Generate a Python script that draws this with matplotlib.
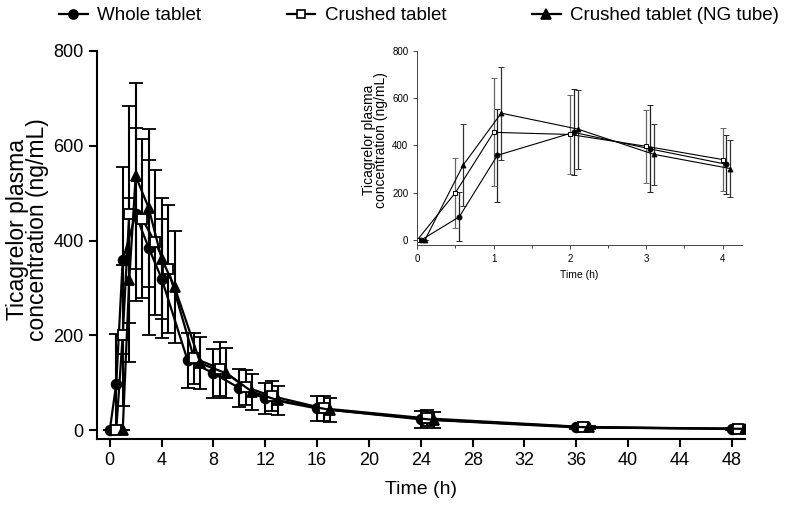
import numpy as np
import matplotlib.pyplot as plt
from matplotlib.lines import Line2D

plt.rcParams['font.family'] = ['Liberation Sans', 'DejaVu Sans']

# sampling times (h) and mean +/- SD concentrations (ng/mL)
time_h = [0, 0.5, 1, 2, 3, 4, 6, 8, 10, 12, 16, 24, 36, 48]
whole = [0, 98, 358, 455, 385, 320, 148, 120, 89, 67, 46, 23, 6, 3]
whole_sd = [0, 104, 197, 182, 184, 125, 58, 52, 40, 32, 27, 18, 4, 2]
crushed = [0, 200, 455, 446, 396, 340, 152, 130, 91, 72, 46, 25, 7, 3]
crushed_sd = [0, 148, 228, 168, 153, 134, 54, 57, 37, 32, 27, 17, 4, 2]
ng_tube = [0, 316, 536, 469, 362, 302, 141, 120, 81, 63, 43, 22, 6, 3]
ng_tube_sd = [0, 173, 196, 167, 128, 119, 55, 53, 38, 30, 25, 17, 4, 2]

labels = ["Whole tablet", "Crushed tablet", "Crushed tablet (NG tube)"]
n_inset = 6  # first 4 hours

series = [
    (whole, whole_sd, "o", "black"),
    (crushed, crushed_sd, "s", "white"),
    (ng_tube, ng_tube_sd, "^", "black"),
]

fig = plt.figure(figsize=(8, 5.09), dpi=100)

# main plot
ax = fig.add_axes([0.121, 0.137, 0.81, 0.763])
t = np.array(time_h)
main_shift = [0, 0.5, 1.0]
for (y, sd, mk, fc), dx in zip(series, main_shift):
    ax.errorbar(t + dx, y, yerr=sd, color="black", lw=1.6, elinewidth=1.5,
                capsize=5, capthick=1.5, marker=mk, ms=7 if mk != "s" else 6.5,
                mfc=fc, mec="black", mew=1.3)

ax.set_xlim(-1, 49)
ax.set_ylim(-19, 800)
ax.set_xticks(np.arange(0, 49, 4))
ax.set_yticks(np.arange(0, 801, 200))
ax.spines[["top", "right"]].set_visible(False)
ax.spines[["left", "bottom"]].set_linewidth(1.5)
ax.tick_params(width=1.5, length=6, labelsize=13)
ax.set_xlabel("Time (h)", fontsize=14, labelpad=8)
ax.set_ylabel("Ticagrelor plasma\nconcentration (ng/mL)", fontsize=16.5, linespacing=0.85)
ax.yaxis.set_label_coords(-0.074, 0.54)

# inset: first 4 hours
ins = fig.add_axes([0.5216, 0.5187, 0.4055, 0.3817])
ti = t[:n_inset]
inset_shift = [0.05, 0.0, 0.1]
inset_ecol = ["#222222", "#666666", "#333333"]
for (y, sd, mk, fc), dx, ec in zip(series, inset_shift, inset_ecol):
    ins.errorbar(ti + dx, y[:n_inset], yerr=sd[:n_inset], color="black", lw=0.8,
                 ecolor=ec, elinewidth=0.9, capsize=2, capthick=0.9, marker=mk,
                 ms=3.5, mfc=fc, mec="black", mew=0.7)

ins.set_xlim(0, 4.25)
ins.set_ylim(-21, 800)
ins.set_xticks(range(0, 5))
ins.set_xticks(np.arange(0.5, 4.1, 1), minor=True)
ins.set_yticks(np.arange(0, 801, 200))
ins.spines[["top", "right"]].set_visible(False)
ins.spines[["left", "bottom"]].set_linewidth(0.7)
ins.spines[["left", "bottom"]].set_color("#444444")
ins.tick_params(width=0.7, length=3, labelsize=7, color="#444444")
ins.tick_params(which="minor", width=0.7, length=2, color="#444444")
ins.set_xlabel("Time (h)", fontsize=7.5, labelpad=4)
ins.set_ylabel("Ticagrelor plasma\nconcentration (ng/mL)", fontsize=10, linespacing=0.8)
ins.yaxis.set_label_coords(-0.09, 0.54)

# legend across the top
handles = [Line2D([], [], color="black", lw=1.6, marker=mk, ms=6.5 if mk != "s" else 6,
                  mfc=fc, mec="black", mew=1.2) for (_, _, mk, fc) in series]
fig.legend(handles, labels, loc="upper left", bbox_to_anchor=(50 / 800, 1 + 2 / 509), ncol=3,
           frameon=False, fontsize=13.5, handlelength=1.5, handletextpad=0.5,
           columnspacing=4.6, borderpad=0)

fig.savefig("out.png", dpi=100)
